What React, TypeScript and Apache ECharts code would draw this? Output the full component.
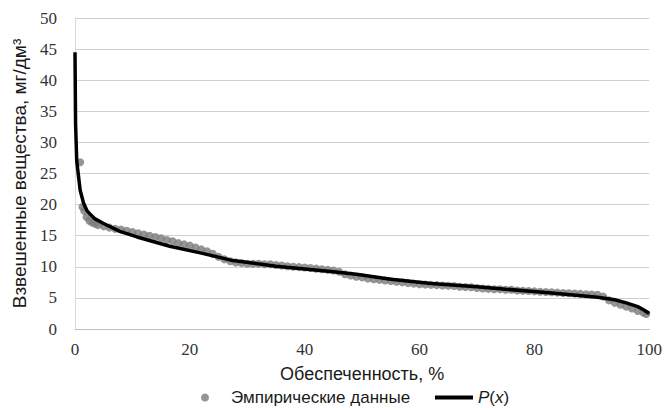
import React, { useEffect, useRef } from "react";
import * as echarts from "echarts";

const empiricalX = [0.9, 1.3, 1.6, 2, 2.5, 3, 3.5, 4, 5, 6, 7, 8, 9, 10, 11, 12, 13, 14, 15, 16, 17, 18, 19, 20, 21, 22, 23, 24, 25, 26, 27, 28, 29, 30, 31, 32, 33, 34, 35, 36, 37, 38, 39, 40, 41, 42, 43, 44, 45, 46, 47, 48, 49, 50, 51, 52, 53, 54, 55, 56, 57, 58, 59, 60, 61, 62, 63, 64, 65, 66, 67, 68, 69, 70, 71, 72, 73, 74, 75, 76, 77, 78, 79, 80, 81, 82, 83, 84, 85, 86, 87, 88, 89, 90, 91, 92, 93, 94, 95, 96, 97, 98, 99, 99.5];
const empiricalY = [26.8, 19.6, 19.0, 18.0, 17.4, 17.1, 16.9, 16.7, 16.5, 16.3, 16.1, 16.0, 15.8, 15.6, 15.4, 15.2, 15.0, 14.8, 14.6, 14.3, 14.1, 13.8, 13.6, 13.4, 13.1, 12.8, 12.5, 12.1, 11.6, 11.2, 10.9, 10.7, 10.6, 10.5, 10.5, 10.5, 10.4, 10.4, 10.3, 10.2, 10.1, 10.0, 9.95, 9.9, 9.8, 9.7, 9.6, 9.5, 9.4, 9.2, 8.8, 8.6, 8.4, 8.3, 8.1, 8.0, 7.9, 7.8, 7.7, 7.6, 7.5, 7.4, 7.3, 7.2, 7.15, 7.1, 7.05, 7.0, 6.95, 6.9, 6.8, 6.75, 6.7, 6.6, 6.5, 6.45, 6.4, 6.4, 6.3, 6.3, 6.2, 6.15, 6.1, 6.05, 6.0, 5.95, 5.9, 5.85, 5.8, 5.75, 5.7, 5.65, 5.6, 5.55, 5.5, 5.2, 4.6, 4.2, 3.9, 3.6, 3.3, 2.9, 2.6, 2.4];

const curveX = [0, 0.1, 0.3, 0.9, 1.5, 2.1, 2.6, 3.5, 4.9, 7.8, 10.8, 16.5, 22, 27.5, 35, 45, 49, 55, 62, 70, 75, 83, 91, 94, 96, 98, 99, 100];
const curveY = [44.5, 33, 27, 22.3, 20.2, 19.0, 18.5, 17.7, 17.0, 15.7, 14.8, 13.3, 12.2, 11.0, 10.1, 9.2, 8.8, 8.0, 7.3, 6.8, 6.4, 5.8, 5.1, 4.7, 4.2, 3.6, 3.1, 2.5];

const xTicks = [0, 20, 40, 60, 80, 100];
const yTicks = [0, 5, 10, 15, 20, 25, 30, 35, 40, 45, 50];

const seriesNames = ["Эмпирические данные", "P(x)"];
const axisTitles = { x: "Обеспеченность, %", y: "Взвешенные вещества, мг/дм³" };

export default function App() {
  const ref = useRef<HTMLDivElement>(null);
  useEffect(() => {
    if (!ref.current) return;
    const chart = echarts.init(ref.current, null, { renderer: "svg" });
    const serif = "'Liberation Serif', 'DejaVu Serif', serif";
    const sans = "'Liberation Sans', Arial, sans-serif";
    chart.setOption({
      animation: false,
      backgroundColor: "#ffffff",
      grid: { left: 75, right: 15, top: 18, bottom: 79, containLabel: false },
      xAxis: {
        type: "value",
        min: xTicks[0],
        max: xTicks[xTicks.length - 1],
        interval: 20,
        name: axisTitles.x,
        nameLocation: "middle",
        nameGap: 36,
        nameTextStyle: { fontFamily: sans, fontSize: 18, color: "#1a1a1a" },
        axisLine: { show: true, lineStyle: { color: "#bfbfbf", width: 1 } },
        axisTick: { show: false },
        splitLine: { show: false },
        axisLabel: { fontFamily: serif, fontSize: 17, color: "#333", margin: 12 },
      },
      yAxis: {
        type: "value",
        min: yTicks[0],
        max: yTicks[yTicks.length - 1],
        interval: 5,
        name: axisTitles.y,
        nameLocation: "middle",
        nameGap: 31,
        nameRotate: 90,
        nameTextStyle: { fontFamily: sans, fontSize: 19, color: "#1a1a1a" },
        axisLine: { show: true, lineStyle: { color: "#d9d9d9", width: 1 } },
        axisTick: { show: false },
        splitLine: { show: true, lineStyle: { color: "#d0d0d0", width: 1 } },
        axisLabel: { fontFamily: serif, fontSize: 17, color: "#333", margin: 18 },
      },
      legend: [
        {
          data: [{ name: seriesNames[0], icon: "circle" }],
          left: 201,
          top: 389,
          padding: 0,
          itemWidth: 42,
          itemHeight: 8,
          textStyle: { fontFamily: sans, fontSize: 17, color: "#1a1a1a" },
        },
        {
          data: [{ name: seriesNames[1], icon: "rect" }],
          left: 435,
          top: 389,
          padding: 0,
          itemWidth: 38,
          itemHeight: 4,
          formatter: () => "{i|P}({i|x})",
          textStyle: {
            fontFamily: sans,
            fontSize: 17,
            color: "#1a1a1a",
            rich: { i: { fontFamily: sans, fontSize: 17, fontStyle: "italic", color: "#1a1a1a" } },
          },
        },
      ],
      series: [
        {
          name: seriesNames[0],
          type: "scatter",
          data: empiricalX.map((x, i) => [x, empiricalY[i]]),
          symbol: "circle",
          symbolSize: 8,
          itemStyle: { color: "#7a7a7a" },
          z: 2,
        },
        {
          name: seriesNames[1],
          type: "line",
          data: curveX.map((x, i) => [x, curveY[i]]),
          symbol: "none",
          smooth: false,
          lineStyle: { color: "#000000", width: 3.5 },
          itemStyle: { color: "#000000" },
          z: 3,
        },
      ],
    });
    return () => chart.dispose();
  }, []);
  return <div ref={ref} style={{ width: 665, height: 408, position: "absolute", left: 0, top: 0 }} />;
}
